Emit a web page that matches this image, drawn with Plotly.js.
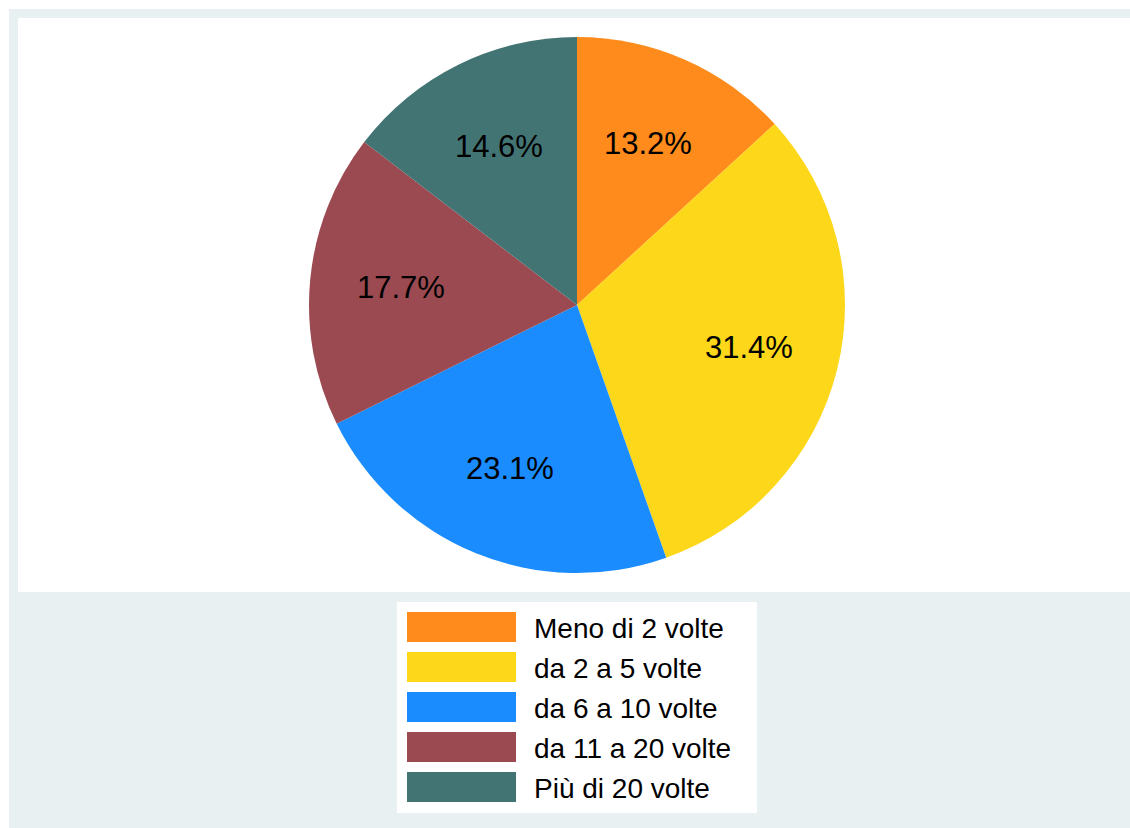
<!DOCTYPE html>
<html>
<head>
<meta charset="utf-8">
<script src="https://cdn.plot.ly/plotly-3.0.1.min.js"></script>
<style>html,body{margin:0;padding:0;background:#fff;}#chart{width:1130px;height:828px;}</style>
</head>
<body>
<div id="chart"></div>
<script>
const categories = ["Meno di 2 volte", "da 2 a 5 volte", "da 6 a 10 volte", "da 11 a 20 volte", "Più di 20 volte"];
const shares = [13.2, 31.4, 23.1, 17.7, 14.6];
const colors = ["#fe8b1b", "#fdd71a", "#1b8cfe", "#9a4a50", "#437474"];

const W = 1130, H = 828;
const bgLight = "rgb(233,240,242)";
const font = "Liberation Sans, Arial, sans-serif";

// pie geometry (pixels)
const cx = 577, cy = 305, R = 268;
const px = v => v / W;
const py = v => 1 - v / H;

const shapes = [
  {type: "rect", xref: "paper", yref: "paper", x0: px(9), x1: px(1130), y0: py(828), y1: py(9), fillcolor: bgLight, line: {width: 0}, layer: "below"},
  {type: "rect", xref: "paper", yref: "paper", x0: px(18), x1: px(1130), y0: py(592), y1: py(18), fillcolor: "#ffffff", line: {width: 0}, layer: "below"},
  {type: "rect", xref: "paper", yref: "paper", x0: px(397), x1: px(757), y0: py(813), y1: py(602), fillcolor: "#ffffff", line: {width: 0}, layer: "below"}
];
const annotations = [];

// slice labels at 2/3 radius, angle from cumulative shares
const total = shares.reduce((a, b) => a + b, 0);
let cum = 0;
shares.forEach((v, i) => {
  const mid = (cum + v / 2) / total * 2 * Math.PI;
  cum += v;
  const r = R * 0.66;
  annotations.push({
    xref: "paper", yref: "paper",
    x: px(cx + r * Math.sin(mid)), y: py(cy - r * Math.cos(mid)),
    text: v.toFixed(1) + "%", showarrow: false,
    xanchor: "center", yanchor: "middle",
    font: {family: font, size: 31, color: "#000"}
  });
});

// legend
categories.forEach((c, i) => {
  const top = 612 + 40 * i;
  shapes.push({type: "rect", xref: "paper", yref: "paper", x0: px(407), x1: px(516), y0: py(top + 30), y1: py(top), fillcolor: colors[i], line: {width: 0}});
  annotations.push({
    xref: "paper", yref: "paper", x: px(532), y: py(top + 16),
    text: c, showarrow: false, xanchor: "left", yanchor: "middle",
    font: {family: font, size: 28, color: "#000"}
  });
});

const data = [{
  type: "pie",
  labels: categories,
  values: shares,
  sort: false,
  direction: "clockwise",
  rotation: 0,
  marker: {colors: colors, line: {width: 0}},
  textinfo: "none",
  hoverinfo: "label+percent",
  domain: {x: [px(cx - R), px(cx + R)], y: [py(cy + R), py(cy - R)]},
  showlegend: false
}];

const layout = {
  width: W, height: H,
  margin: {l: 0, r: 0, t: 0, b: 0},
  paper_bgcolor: "#ffffff",
  showlegend: false,
  shapes: shapes,
  annotations: annotations
};

Plotly.newPlot("chart", data, layout, {displayModeBar: false, staticPlot: true});
</script>
</body>
</html>
